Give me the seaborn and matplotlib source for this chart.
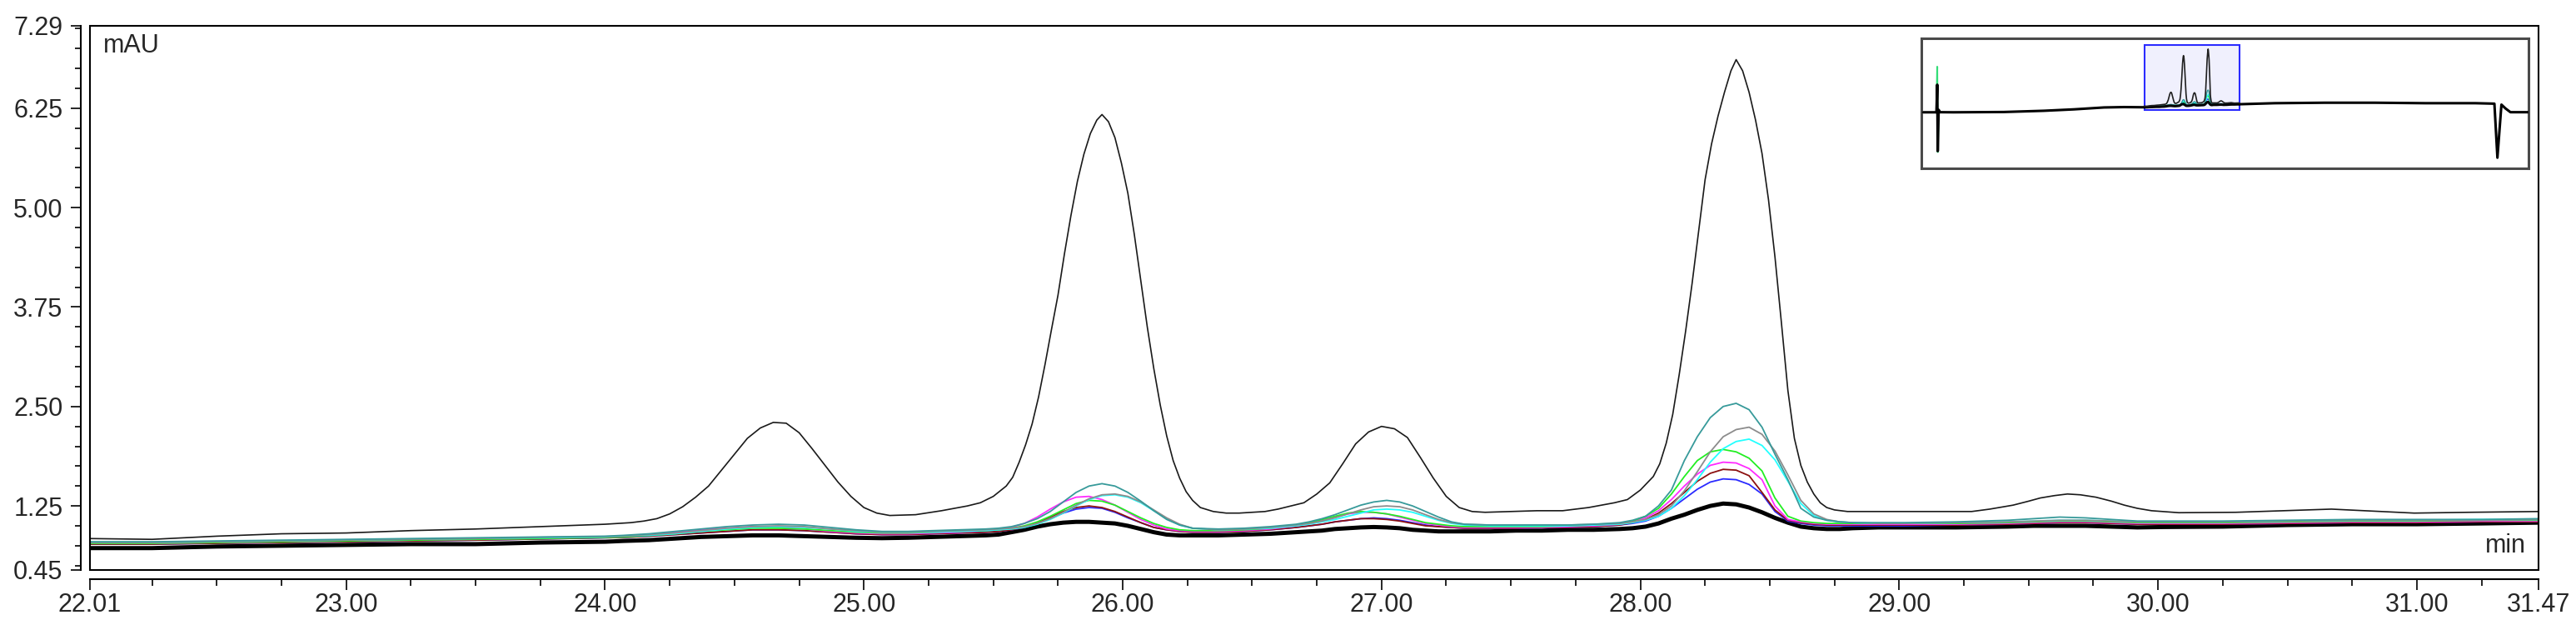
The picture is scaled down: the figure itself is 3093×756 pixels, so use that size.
import matplotlib
matplotlib.use('Agg')
import matplotlib.pyplot as plt
from matplotlib.patches import Rectangle
from matplotlib.ticker import FixedLocator, MultipleLocator
import pandas as pd
import seaborn as sns

# retention time grid (min) for the blank and the coloured traces
time_min = [22.01, 22.25, 22.50, 22.75, 23.00, 23.25, 23.50, 23.75, 24.00,
            24.07, 24.17, 24.27, 24.37, 24.47, 24.57, 24.67, 24.77, 24.87, 24.97, 25.07,
            25.17, 25.27, 25.37, 25.47, 25.52, 25.57, 25.62, 25.67, 25.72, 25.77,
            25.82, 25.87, 25.92, 25.97, 26.02, 26.07, 26.12, 26.17, 26.22, 26.27,
            26.37, 26.47, 26.57, 26.67, 26.72, 26.77, 26.82, 26.87, 26.92, 26.97,
            27.02, 27.07, 27.12, 27.17, 27.22, 27.27, 27.32, 27.42, 27.52, 27.62,
            27.72, 27.82, 27.92, 27.97, 28.02, 28.07, 28.12, 28.17, 28.22, 28.27,
            28.32, 28.37, 28.42, 28.47, 28.52, 28.57, 28.62, 28.67, 28.72, 28.77,
            28.82, 28.92, 29.02, 29.22, 29.42, 29.52, 29.62, 29.72, 29.82, 29.92,
            30.02, 30.25, 30.50, 30.75, 31.00, 31.25, 31.47]

# the sample with the large peaks is read on a finer grid
thin_time = [22.01, 22.25, 22.50, 22.75, 23.00, 23.25, 23.50, 23.75, 24.00,
             24.10, 24.15, 24.20, 24.25, 24.30, 24.35, 24.40, 24.45, 24.50, 24.55,
             24.60, 24.65, 24.70, 24.75, 24.80, 24.85, 24.90, 24.95, 25.00, 25.05,
             25.10, 25.20, 25.30, 25.40, 25.45, 25.50, 25.55, 25.575, 25.60, 25.625,
             25.65, 25.675, 25.70, 25.725, 25.75, 25.775, 25.80, 25.825, 25.85, 25.875,
             25.90, 25.92, 25.945, 25.97, 25.995, 26.02, 26.045, 26.07, 26.095, 26.12,
             26.145, 26.17, 26.195, 26.22, 26.245, 26.27, 26.30, 26.35, 26.40, 26.45,
             26.50, 26.55, 26.60, 26.65, 26.70, 26.75, 26.80, 26.85, 26.90, 26.95,
             27.00, 27.05, 27.10, 27.15, 27.20, 27.25, 27.30, 27.35, 27.40, 27.50,
             27.60, 27.70, 27.80, 27.85, 27.90, 27.95, 28.00, 28.05, 28.075, 28.10,
             28.125, 28.15, 28.175, 28.20, 28.225, 28.25, 28.275, 28.30, 28.325, 28.35,
             28.37, 28.395, 28.42, 28.445, 28.47, 28.495, 28.52, 28.545, 28.57, 28.595,
             28.62, 28.645, 28.67, 28.695, 28.72, 28.75, 28.80, 28.90, 29.00, 29.10,
             29.28, 29.35, 29.44, 29.50, 29.545, 29.60, 29.65, 29.70, 29.76, 29.82,
             29.87, 29.92, 29.975, 30.08, 30.30, 30.575, 30.67, 30.80, 30.99, 31.20,
             31.47]

thin_black = [0.84, 0.83, 0.87, 0.90, 0.91, 0.94, 0.96, 0.99, 1.02,
              1.04, 1.06, 1.09, 1.15, 1.24, 1.36, 1.50, 1.70, 1.90, 2.10,
              2.23, 2.30, 2.29, 2.17, 1.97, 1.76, 1.55, 1.37, 1.23, 1.16,
              1.13, 1.14, 1.19, 1.25, 1.29, 1.37, 1.50, 1.61, 1.80, 2.02,
              2.28, 2.62, 3.03, 3.47, 3.90, 4.42, 4.90, 5.33, 5.67, 5.93,
              6.10, 6.17, 6.08, 5.88, 5.56, 5.18, 4.66, 4.08, 3.50, 2.98,
              2.52, 2.13, 1.82, 1.60, 1.43, 1.32, 1.23, 1.18, 1.16, 1.16,
              1.17, 1.18, 1.21, 1.25, 1.29, 1.40, 1.54, 1.78, 2.03, 2.18,
              2.25, 2.22, 2.11, 1.86, 1.60, 1.37, 1.23, 1.18, 1.17, 1.18,
              1.19, 1.19, 1.23, 1.26, 1.29, 1.33, 1.45, 1.62, 1.78, 2.04,
              2.40, 2.90, 3.45, 4.05, 4.70, 5.35, 5.80, 6.15, 6.45, 6.72,
              6.86, 6.72, 6.45, 6.10, 5.68, 5.10, 4.38, 3.55, 2.70, 2.10,
              1.76, 1.55, 1.40, 1.29, 1.23, 1.20, 1.18, 1.18, 1.18, 1.18,
              1.18, 1.21, 1.26, 1.31, 1.35, 1.38, 1.40, 1.39, 1.36, 1.31,
              1.26, 1.22, 1.19, 1.165, 1.17, 1.20, 1.21, 1.19, 1.16, 1.17,
              1.18]

thick_black = [0.72, 0.72, 0.74, 0.75, 0.76, 0.77, 0.77, 0.79, 0.80,
               0.81, 0.82, 0.84, 0.86, 0.87, 0.88, 0.88, 0.87, 0.86, 0.85, 0.845,
               0.85, 0.86, 0.87, 0.88, 0.89, 0.92, 0.95, 0.99, 1.02, 1.04,
               1.05, 1.05, 1.04, 1.03, 1.00, 0.96, 0.92, 0.89, 0.88, 0.88,
               0.88, 0.89, 0.90, 0.92, 0.93, 0.94, 0.96, 0.97, 0.98, 0.985,
               0.98, 0.97, 0.95, 0.94, 0.93, 0.93, 0.93, 0.93, 0.94, 0.94,
               0.95, 0.95, 0.96, 0.97, 0.99, 1.03, 1.09, 1.14, 1.20, 1.25,
               1.28, 1.27, 1.23, 1.17, 1.10, 1.04, 0.99, 0.97, 0.96, 0.96,
               0.97, 0.98, 0.98, 0.98, 0.99, 1.00, 1.00, 1.00, 0.99, 0.98,
               0.985, 0.99, 1.01, 1.02, 1.02, 1.03, 1.04]

teal = [0.80, 0.80, 0.81, 0.82, 0.83, 0.84, 0.85, 0.86, 0.87,
        0.88, 0.90, 0.93, 0.96, 0.99, 1.01, 1.02, 1.01, 0.98, 0.95, 0.93,
        0.93, 0.94, 0.95, 0.96, 0.97, 0.99, 1.03, 1.09, 1.18, 1.30,
        1.42, 1.50, 1.53, 1.50, 1.42, 1.31, 1.19, 1.08, 1.01, 0.97,
        0.96, 0.97, 0.99, 1.02, 1.05, 1.09, 1.14, 1.20, 1.26, 1.30,
        1.32, 1.30, 1.25, 1.18, 1.11, 1.05, 1.02, 1.01, 1.01, 1.01,
        1.01, 1.02, 1.04, 1.07, 1.12, 1.25, 1.45, 1.82, 2.12, 2.36,
        2.50, 2.54, 2.46, 2.24, 1.90, 1.58, 1.22, 1.11, 1.07, 1.05,
        1.04, 1.04, 1.04, 1.05, 1.07, 1.09, 1.11, 1.10, 1.08, 1.06,
        1.06, 1.06, 1.07, 1.08, 1.08, 1.08, 1.09]

grey = [0.79, 0.79, 0.80, 0.81, 0.82, 0.83, 0.84, 0.855, 0.865,
        0.87, 0.89, 0.91, 0.94, 0.97, 0.99, 1.00, 0.99, 0.96, 0.94, 0.92,
        0.92, 0.93, 0.94, 0.95, 0.96, 0.97, 0.99, 1.03, 1.09, 1.17,
        1.26, 1.34, 1.39, 1.40, 1.37, 1.30, 1.20, 1.10, 1.02, 0.97,
        0.95, 0.96, 0.98, 1.01, 1.03, 1.06, 1.10, 1.15, 1.20, 1.24,
        1.25, 1.24, 1.20, 1.14, 1.08, 1.04, 1.02, 1.01, 1.01, 1.01,
        1.01, 1.02, 1.03, 1.05, 1.08, 1.14, 1.25, 1.44, 1.68, 1.93,
        2.12, 2.21, 2.24, 2.15, 1.94, 1.64, 1.32, 1.15, 1.08, 1.05,
        1.04, 1.03, 1.03, 1.04, 1.05, 1.06, 1.07, 1.07, 1.06, 1.05,
        1.05, 1.05, 1.06, 1.07, 1.07, 1.07, 1.08]

cyan = [0.79, 0.79, 0.80, 0.81, 0.82, 0.83, 0.84, 0.85, 0.86,
        0.87, 0.88, 0.90, 0.93, 0.96, 0.98, 0.99, 0.98, 0.96, 0.93, 0.92,
        0.92, 0.92, 0.93, 0.94, 0.95, 0.96, 0.98, 1.02, 1.08, 1.16,
        1.25, 1.33, 1.38, 1.39, 1.36, 1.29, 1.19, 1.09, 1.01, 0.97,
        0.95, 0.96, 0.97, 1.00, 1.02, 1.05, 1.08, 1.12, 1.16, 1.20,
        1.21, 1.20, 1.17, 1.12, 1.07, 1.03, 1.01, 1.00, 1.00, 1.00,
        1.00, 1.01, 1.02, 1.04, 1.07, 1.12, 1.22, 1.38, 1.58, 1.80,
        1.97, 2.06, 2.09, 2.01, 1.83, 1.56, 1.28, 1.13, 1.07, 1.05,
        1.04, 1.03, 1.03, 1.04, 1.05, 1.06, 1.07, 1.07, 1.06, 1.05,
        1.05, 1.05, 1.06, 1.07, 1.07, 1.08, 1.08]

green = [0.78, 0.78, 0.79, 0.80, 0.81, 0.82, 0.83, 0.84, 0.855,
         0.86, 0.88, 0.90, 0.93, 0.95, 0.97, 0.97, 0.96, 0.94, 0.92, 0.91,
         0.91, 0.92, 0.93, 0.94, 0.95, 0.97, 1.00, 1.05, 1.12, 1.20,
         1.28, 1.32, 1.31, 1.26, 1.18, 1.10, 1.03, 0.98, 0.95, 0.94,
         0.94, 0.95, 0.97, 1.01, 1.04, 1.08, 1.12, 1.16, 1.18, 1.17,
         1.15, 1.12, 1.08, 1.04, 1.02, 1.00, 0.99, 0.99, 0.99, 0.99,
         1.00, 1.01, 1.03, 1.06, 1.12, 1.22, 1.40, 1.62, 1.82, 1.93,
         1.96, 1.93, 1.85, 1.69, 1.35, 1.12, 1.06, 1.04, 1.03, 1.03,
         1.03, 1.03, 1.03, 1.03, 1.04, 1.05, 1.06, 1.06, 1.05, 1.04,
         1.04, 1.04, 1.05, 1.06, 1.06, 1.07, 1.07]

magenta = [0.78, 0.78, 0.79, 0.80, 0.81, 0.82, 0.83, 0.845, 0.86,
           0.87, 0.89, 0.92, 0.95, 0.97, 0.99, 0.98, 0.96, 0.93, 0.91, 0.90,
           0.90, 0.91, 0.92, 0.94, 0.95, 0.98, 1.03, 1.11, 1.21, 1.30,
           1.36, 1.37, 1.33, 1.26, 1.17, 1.08, 1.01, 0.96, 0.94, 0.93,
           0.93, 0.94, 0.96, 1.00, 1.03, 1.07, 1.11, 1.15, 1.17, 1.17,
           1.15, 1.11, 1.07, 1.03, 1.01, 0.99, 0.98, 0.98, 0.98, 0.98,
           0.99, 1.00, 1.02, 1.05, 1.10, 1.19, 1.33, 1.50, 1.65, 1.76,
           1.80, 1.79, 1.72, 1.58, 1.25, 1.08, 1.05, 1.03, 1.02, 1.02,
           1.02, 1.02, 1.02, 1.02, 1.03, 1.04, 1.05, 1.05, 1.04, 1.03,
           1.03, 1.03, 1.04, 1.05, 1.05, 1.06, 1.06]

brown = [0.77, 0.77, 0.78, 0.79, 0.80, 0.81, 0.82, 0.835, 0.85,
         0.855, 0.87, 0.89, 0.91, 0.93, 0.95, 0.95, 0.94, 0.92, 0.90, 0.89,
         0.89, 0.90, 0.91, 0.92, 0.93, 0.95, 0.98, 1.04, 1.11, 1.18,
         1.23, 1.25, 1.23, 1.18, 1.11, 1.04, 0.98, 0.95, 0.93, 0.92,
         0.92, 0.93, 0.95, 0.98, 1.00, 1.02, 1.05, 1.07, 1.09, 1.09,
         1.08, 1.06, 1.03, 1.00, 0.99, 0.98, 0.97, 0.97, 0.97, 0.98,
         0.98, 0.99, 1.01, 1.04, 1.08, 1.16, 1.28, 1.42, 1.56, 1.66,
         1.71, 1.70, 1.63, 1.42, 1.20, 1.07, 1.04, 1.02, 1.01, 1.01,
         1.01, 1.01, 1.01, 1.01, 1.02, 1.03, 1.04, 1.04, 1.03, 1.02,
         1.02, 1.02, 1.03, 1.04, 1.04, 1.05, 1.05]

blue = [0.77, 0.77, 0.78, 0.79, 0.80, 0.81, 0.82, 0.835, 0.85,
        0.855, 0.87, 0.89, 0.91, 0.93, 0.95, 0.95, 0.94, 0.92, 0.90, 0.89,
        0.89, 0.90, 0.91, 0.92, 0.93, 0.95, 0.98, 1.03, 1.09, 1.16,
        1.21, 1.23, 1.22, 1.17, 1.10, 1.04, 0.98, 0.95, 0.93, 0.92,
        0.92, 0.93, 0.95, 0.98, 1.00, 1.02, 1.05, 1.07, 1.09, 1.10,
        1.09, 1.07, 1.04, 1.01, 0.99, 0.98, 0.97, 0.97, 0.97, 0.98,
        0.98, 0.99, 1.01, 1.03, 1.06, 1.12, 1.22, 1.34, 1.46, 1.55,
        1.59, 1.58, 1.52, 1.40, 1.18, 1.06, 1.03, 1.01, 1.00, 1.00,
        1.00, 1.00, 1.00, 1.01, 1.02, 1.03, 1.04, 1.04, 1.03, 1.02,
        1.02, 1.02, 1.03, 1.04, 1.04, 1.05, 1.05]

# whole-run overview (inset), outside the zoomed window
ov_pre_time = [0.0, 1.30, 1.38, 1.43, 1.52, 1.65, 3.0, 8.0, 12.0, 15.0, 18.0, 20.0, 22.01]
ov_pre_mau = [0.19, 0.19, 3.10, -3.90, 0.45, 0.20, 0.19, 0.22, 0.35, 0.50, 0.70, 0.74, 0.72]
ov_post_time = [31.47, 35.0, 40.0, 45.0, 50.0, 55.0, 56.9, 57.2, 57.6, 58.0, 58.5, 60.3]
ov_post_mau = [1.04, 1.15, 1.20, 1.20, 1.15, 1.15, 1.10, -4.60, 1.00, 0.60, 0.20, 0.20]
spike_time = [1.30, 1.38, 1.43, 1.52]
spike_mau = [0.19, 5.00, -4.00, 0.19]

y_major = [0.45, 1.25, 2.50, 3.75, 5.00, 6.25, 7.29]
x_major = [22.01, 23.00, 24.00, 25.00, 26.00, 27.00, 28.00, 29.00, 30.00, 31.00, 31.47]

traces = {
    'thick': (time_min, thick_black), 'blue': (time_min, blue), 'brown': (time_min, brown),
    'magenta': (time_min, magenta), 'green': (time_min, green), 'cyan': (time_min, cyan),
    'grey': (time_min, grey), 'teal': (time_min, teal), 'thin': (thin_time, thin_black),
}
styles = {
    'thick': ('#000000', 3.6), 'blue': ('#2a2aff', 1.3), 'brown': ('#8b1010', 1.3),
    'magenta': ('#ff2aff', 1.3), 'green': ('#22ee22', 1.3), 'cyan': ('#22ffff', 1.3),
    'grey': ('#8c8c8c', 1.3), 'teal': ('#379a9a', 1.3), 'thin': ('#1a1a1a', 1.2),
}

rows = []
for name, (times, vals) in traces.items():
    for t, v in zip(times, vals):
        rows.append({'trace': name, 'time': t, 'mAU': v})
df = pd.DataFrame(rows)

sns.set_style('white')
plt.rcParams['font.family'] = ['Liberation Sans', 'DejaVu Sans']

fig = plt.figure(figsize=(30.93, 7.56), dpi=100)
ax = fig.add_axes([108 / 3093, 72.5 / 756, 2940 / 3093, 653 / 756])

for name in traces:
    color, lw = styles[name]
    sns.lineplot(data=df[df['trace'] == name], x='time', y='mAU', color=color,
                 linewidth=lw, estimator=None, ax=ax, legend=False)

ax.set_xlim(22.01, 31.47)
ax.set_ylim(0.45, 7.29)
ax.set_xlabel('')
ax.set_ylabel('')

ax.spines['top'].set_visible(False)
ax.spines['right'].set_visible(False)
for s in ['left', 'bottom']:
    ax.spines[s].set_position(('outward', 8))
    ax.spines[s].set_linewidth(1.5)
    ax.spines[s].set_color('black')
ax.add_patch(Rectangle((0, 0), 1, 1, transform=ax.transAxes, fill=False,
                       lw=1.5, edgecolor='black', clip_on=False, zorder=5))

ax.yaxis.set_major_locator(FixedLocator(y_major))
ax.yaxis.set_minor_locator(MultipleLocator(0.25))
ax.set_yticklabels([f'{v:.2f}' for v in y_major])
ax.xaxis.set_major_locator(FixedLocator(x_major))
ax.xaxis.set_minor_locator(MultipleLocator(0.25))
ax.set_xticklabels([f'{v:.2f}' for v in x_major])
ax.tick_params(which='both', direction='out', width=1.2, color='black', labelsize=22)
ax.tick_params(axis='y', which='major', length=8.5, pad=7, left=True)
ax.tick_params(axis='y', which='minor', length=5, left=True)
ax.tick_params(axis='x', which='major', length=9, pad=3, bottom=True)
ax.tick_params(axis='x', which='minor', length=6, bottom=True)

ax.text(0.0055, 0.985, 'mAU', transform=ax.transAxes, fontsize=22, va='top', ha='left')
ax.text(0.995, 0.031, 'min', transform=ax.transAxes, fontsize=22, va='baseline', ha='right')

# overview inset
ins = fig.add_axes([2307 / 3093, (756 - 202) / 756, 729 / 3093, 156 / 756])
ins.set_facecolor('white')
ins.add_patch(Rectangle((22.01, 0.45), 31.47 - 22.01, 7.29 - 0.45, facecolor='#f0f0fd',
                        edgecolor='#2b2bff', lw=1.5, zorder=1))
sns.lineplot(x=spike_time, y=spike_mau, color='#33dd77', linewidth=1.5, estimator=None,
             sort=False, ax=ins, zorder=2)
for name in ['blue', 'green', 'cyan', 'teal']:
    sns.lineplot(data=df[df['trace'] == name], x='time', y='mAU', color=styles[name][0],
                 linewidth=1.0, estimator=None, ax=ins, legend=False, zorder=3)
sns.lineplot(x=ov_pre_time, y=ov_pre_mau, color='black', linewidth=2.2, estimator=None,
             sort=False, ax=ins, zorder=4)
sns.lineplot(x=ov_post_time, y=ov_post_mau, color='black', linewidth=2.2, estimator=None,
             sort=False, ax=ins, zorder=4)
sns.lineplot(data=df[df['trace'] == 'thick'], x='time', y='mAU', color='black',
             linewidth=2.2, estimator=None, ax=ins, legend=False, zorder=4)
sns.lineplot(data=df[df['trace'] == 'thin'], x='time', y='mAU', color='#202020',
             linewidth=1.2, estimator=None, ax=ins, legend=False, zorder=5)
ins.set_xlim(-0.2, 60.3)
ins.set_ylim(-5.72, 7.99)
ins.set_xticks([])
ins.set_yticks([])
ins.set_xlabel('')
ins.set_ylabel('')
for s in ins.spines.values():
    s.set_visible(True)
    s.set_color('#4a4a4a')
    s.set_linewidth(2.2)

fig.savefig('out.png', dpi=100)
